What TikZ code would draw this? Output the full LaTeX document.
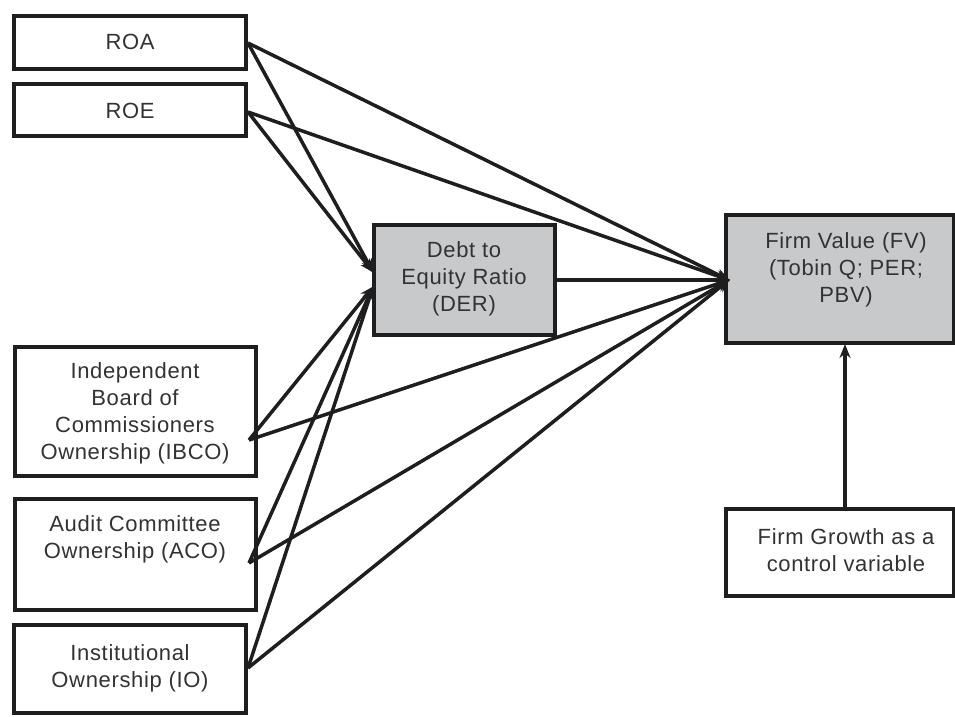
\documentclass[tikz,border=0pt]{standalone}
\usepackage{fontspec}
\setmainfont[LetterSpace=3]{Liberation Sans}
\usetikzlibrary{arrows.meta}
\definecolor{boxgray}{RGB}{200,201,203}
\definecolor{ink}{RGB}{30,30,30}
\definecolor{txt}{RGB}{50,50,50}
\tikzset{
  box/.style={draw=ink, line width=3.8pt, fill=white, inner sep=0pt},
  graybox/.style={box, fill=boxgray},
  lbl/.style={align=center, text=txt, font=\fontsize{22}{27}\selectfont, inner sep=0pt},
  conn/.style={draw=ink, line width=3.5pt, -{Stealth[length=14pt,width=11pt]}, shorten >=-1pt}
}
\begin{document}
\begin{tikzpicture}[x=1pt,y=-1pt]
\useasboundingbox (0,0) rectangle (955,716);
% boxes
\node[box, minimum width=232pt, minimum height=53pt] (roa) at (130,42.5) {};
\node[box, minimum width=232pt, minimum height=52pt] (roe) at (130,110) {};
\node[box, minimum width=241pt, minimum height=129pt] (ibco) at (135.5,411.5) {};
\node[box, minimum width=241pt, minimum height=111pt] (aco) at (135.5,554.5) {};
\node[box, minimum width=232pt, minimum height=88pt] (io) at (130,669) {};
\node[graybox, minimum width=181pt, minimum height=110pt] (der) at (464.5,280) {};
\node[graybox, minimum width=228pt, minimum height=128pt] (fv) at (840,279) {};
\node[box, minimum width=228pt, minimum height=87pt] (fg) at (840,552.5) {};
% texts
\node[lbl] (troa) at (130,42) {ROA};
\node[lbl] (troe) at (130,111) {ROE};
\node[lbl] (tibco) at (135,413) {Independent\\Board of\\Commissioners\\Ownership (IBCO)};
\node[lbl] (taco) at (135,539) {Audit Committee\\Ownership (ACO)};
\node[lbl] (tio) at (130,668) {Institutional\\Ownership (IO)};
\node[lbl] (tder) at (464,279) {Debt to\\Equity Ratio\\(DER)};
\node[lbl] (tfv) at (846,270) {Firm Value (FV)\\(Tobin Q; PER;\\PBV)};
\node[lbl] (tfg) at (846,550) {Firm Growth as a\\control variable};
% connection points
\coordinate (oroa) at (248,43);
\coordinate (oroe) at (248,112);
\coordinate (oibco) at (249,440);
\coordinate (oaco) at (249,563);
\coordinate (oio) at (248,668);
\coordinate (derin1) at (373,272);
\coordinate (derin2) at (373,287);
\coordinate (derout) at (557,280);
\coordinate (fvin) at (729,280);
\coordinate (fgout) at (845,507);
\coordinate (fvbot) at (845,345);
% connectors
\draw[conn] (oroa) -- (derin1);
\draw[conn] (oroe) -- (derin1);
\draw[conn] (oroa) -- (fvin);
\draw[conn] (oroe) -- (fvin);
\draw[conn] (oibco) -- (derin2);
\draw[conn] (oaco) -- (derin2);
\draw[conn] (oio) -- (derin2);
\draw[conn] (oibco) -- (fvin);
\draw[conn] (oaco) -- (fvin);
\draw[conn] (oio) -- (fvin);
\draw[conn] (derout) -- (fvin);
\draw[conn] (fgout) -- (fvbot);
\end{tikzpicture}
\end{document}
